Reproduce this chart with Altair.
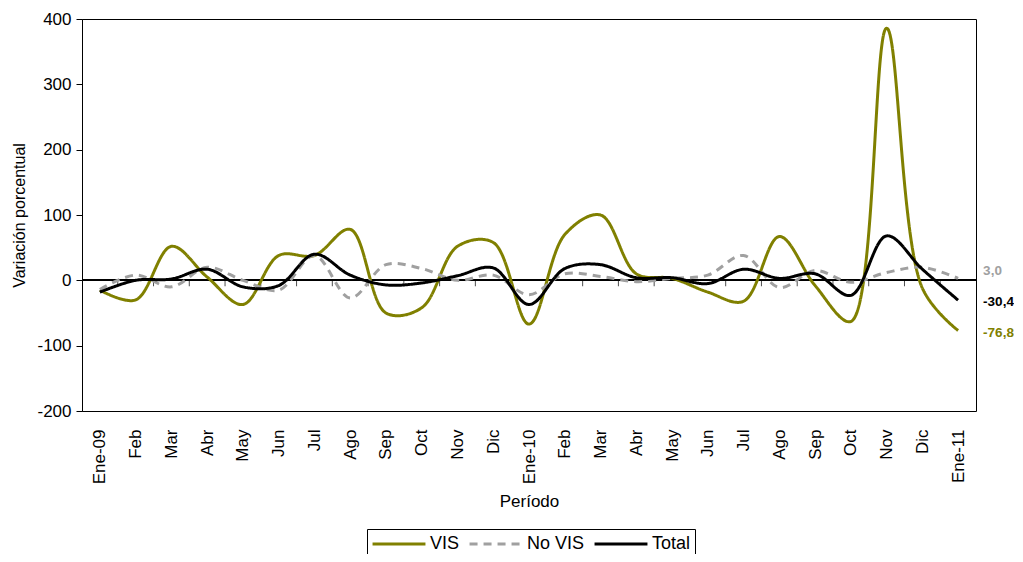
import json
import altair as alt
import pandas as pd

months = ["Ene-09", "Feb", "Mar", "Abr", "May", "Jun", "Jul", "Ago", "Sep", "Oct", "Nov", "Dic",
          "Ene-10", "Feb", "Mar", "Abr", "May", "Jun", "Jul", "Ago", "Sep", "Oct", "Nov", "Dic", "Ene-11"]

vis = [-15, -30, 52, 5, -37, 38, 38, 78, -50, -42, 52, 58, -67, 70, 100, 10, 3, -18, -32, 67, -8, -63, 386, -12, -76.8]
no_vis = [-14, 8, -10, 20, 0, -15, 38, -27, 24, 18, 0, 8, -22, 10, 6, -2, 3, 8, 38, -11, 15, -3, 12, 20, 3.0]
total = [-18, 0, 2, 17, -10, -8, 40, 8, -7, -4, 7, 19, -37, 18, 24, 4, 4, -5, 17, 3, 10, -23, 68, 17, -30.4]

series_names = ["VIS", "No VIS", "Total"]
series_values = [vis, no_vis, total]
series_colors = ["#808000", "#A0A0A0", "#000000"]
end_labels = ["-76,8", "3,0", "-30,4"]

rows = []
for name, vals in zip(series_names, series_values):
    for i, v in enumerate(vals):
        rows.append({"idx": i, "serie": name, "valor": v})
df = pd.DataFrame(rows)

tick_df = pd.DataFrame({"pos": [i + 0.5 for i in range(len(months) - 1)], "zero": 0})

xscale = alt.Scale(domain=[-0.5, len(months) - 0.5], nice=False, zero=False)
yscale = alt.Scale(domain=[-200, 400], nice=False)

label_expr = json.dumps(months) + "[datum.value]"

x_axis = alt.Axis(values=list(range(len(months))), tickCount=len(months), labelExpr=label_expr,
                  labelAngle=-90, labelOverlap=False, labelBound=False,
                  ticks=False, domain=False, grid=False, labelFontSize=17,
                  labelPadding=18, title="Período", titleFontSize=17, titleFontWeight="normal",
                  titlePadding=10)
y_axis = alt.Axis(values=[-200, -100, 0, 100, 200, 300, 400], labelExpr="'' + datum.value",
                  grid=False, tickSize=6, tickColor="black", domainColor="black",
                  labelFontSize=17, labelPadding=5,
                  title="Variación porcentual", titleFontSize=16, titleFontWeight="normal",
                  titlePadding=9)

color_scale = alt.Scale(domain=series_names, range=series_colors)
dash_scale = alt.Scale(domain=series_names, range=[[1, 0], [8, 6], [1, 0]])

zero_rule = alt.Chart(tick_df).mark_rule(color="black", strokeWidth=1).encode(
    y=alt.Y("zero:Q", scale=yscale, axis=y_axis)
)

ticks = alt.Chart(tick_df).mark_tick(orient="vertical", color="black", size=6, thickness=1, yOffset=3).encode(
    x=alt.X("pos:Q", scale=xscale, axis=x_axis),
    y=alt.Y("zero:Q", scale=yscale, axis=y_axis),
)

legend = alt.Legend(title=None, orient="none", direction="horizontal", legendX=285, legendY=510)

lines = alt.Chart(df).mark_line(interpolate="catmull-rom", strokeWidth=3).encode(
    x=alt.X("idx:Q", scale=xscale, axis=x_axis),
    y=alt.Y("valor:Q", scale=yscale, axis=y_axis),
    color=alt.Color("serie:N", scale=color_scale, sort=series_names, legend=legend),
    strokeDash=alt.StrokeDash("serie:N", scale=dash_scale, sort=series_names, legend=legend),
)

label_layers = []
dys = [2, -7, 2]
for name, vals, col, lab, dy in zip(series_names, series_values, series_colors, end_labels, dys):
    ldf = pd.DataFrame({"idx": [len(vals) - 1], "valor": [vals[-1]], "lab": [lab]})
    label_layers.append(
        alt.Chart(ldf).mark_text(align="left", baseline="middle", dx=25, dy=dy, fontSize=13.5,
                                 fontWeight="bold", color=col).encode(
            x=alt.X("idx:Q", scale=xscale, axis=x_axis),
            y=alt.Y("valor:Q", scale=yscale, axis=y_axis),
            text="lab:N",
        )
    )

chart = alt.layer(zero_rule, ticks, lines, *label_layers).properties(
    width=894, height=392,
    padding={"left": 74, "top": 11, "right": 38, "bottom": 143},
    autosize=alt.AutoSizeParams(type="none"),
).configure(
    font="Liberation Sans",
).configure_view(
    stroke="black", strokeWidth=1,
).configure_legend(
    strokeColor="black", padding=4, labelFontSize=18, symbolType="stroke",
    symbolStrokeWidth=3, symbolSize=2800, clipHeight=22, labelOffset=3, columnPadding=8,
    cornerRadius=0, labelColor="black",
).configure_axis(
    labelColor="black", titleColor="black",
)

chart.save("out.html", embed_options={"renderer": "svg", "actions": False})
